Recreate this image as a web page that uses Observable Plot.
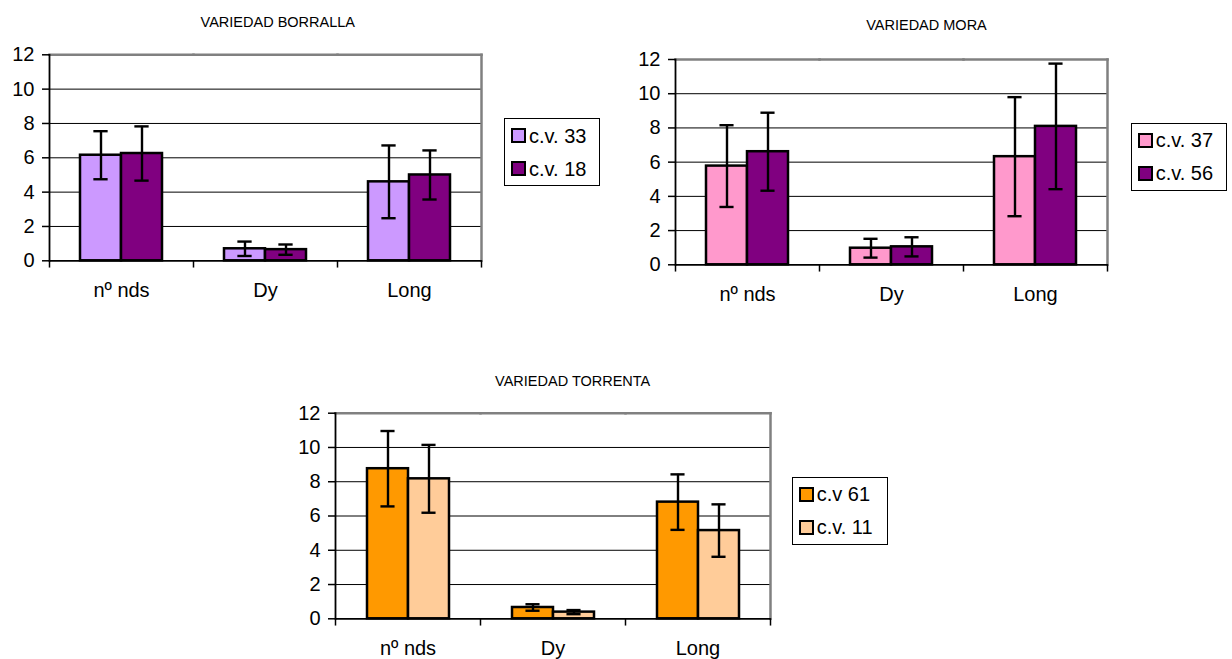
<!DOCTYPE html>
<html>
<head>
<meta charset="utf-8">
<script src="https://cdn.jsdelivr.net/npm/d3@7"></script>
<script src="https://cdn.jsdelivr.net/npm/@observablehq/plot@0.6"></script>
<style>
  html, body { margin: 0; padding: 0; background: #fff; }
  body { width: 1232px; height: 659px; position: relative; overflow: hidden;
         font-family: "Liberation Sans", Arial, sans-serif; color: #000; }
  .chart { position: absolute; }
  .title { position: absolute; width: 300px; text-align: center; font-size: 14.5px;
           line-height: 1; white-space: nowrap; }
  .legend { position: absolute; box-sizing: border-box; width: 96px; border: 1px solid #000; background: #fff; }
  .legend .row { height: 33px; display: flex; align-items: center; font-size: 20px; line-height: 1; white-space: nowrap; }
  .legend .sw { box-sizing: border-box; width: 15px; height: 15px; border: 2px solid #000;
                margin-left: 6px; margin-right: 3px; flex: none; }
</style>
</head>
<body>
<script>
// Shared categories and y-axis ticks
const categories = ["nº nds", "Dy", "Long"];
const gridValues = [2, 4, 6, 8, 10];
const yTicks = [0, 2, 4, 6, 8, 10, 12];

// Variedad Borralla: means and standard deviations per clone
const borrallaSeries = ["c.v. 33", "c.v. 18"];
const borrallaMeans  = [[6.15, 0.70, 4.60], [6.25, 0.65, 5.00]];
const borrallaErrors = [[1.40, 0.42, 2.12], [1.58, 0.30, 1.43]];
const borrallaColors = ["#CC99FF", "#800080"];

// Variedad Mora
const moraSeries = ["c.v. 37", "c.v. 56"];
const moraMeans  = [[5.77, 0.97, 6.32], [6.61, 1.05, 8.09]];
const moraErrors = [[2.39, 0.55, 3.48], [2.28, 0.56, 3.67]];
const moraColors = ["#FF99CC", "#800080"];

// Variedad Torrenta
const torrentaSeries = ["c.v 61", "c.v. 11"];
const torrentaMeans  = [[8.76, 0.66, 6.81], [8.17, 0.39, 5.15]];
const torrentaErrors = [[2.20, 0.19, 1.62], [1.98, 0.12, 1.53]];
const torrentaColors = ["#FF9900", "#FFCC99"];

function rowsOf(series, means, errors) {
  return series.flatMap((s, i) =>
    categories.map((c, j) => ({cat: c, series: s, value: means[i][j], err: errors[i][j]})));
}

function drawChart(cfg) {
  const {title, series, means, errors, colors, box, frame, titlePos, legendPos} = cfg;
  const rows = rowsOf(series, means, errors);
  const plotH = frame.bottom - frame.top;
  const facetW = (frame.right - frame.left) / categories.length;
  const outer = 0.73;
  const step = facetW / (series.length + 2 * outer);
  const capInset = (step - 15) / 2;

  const chart = Plot.plot({
    width: box.width,
    height: box.height,
    marginLeft: frame.left - box.left,
    marginRight: box.left + box.width - frame.right,
    marginTop: frame.top - box.top,
    marginBottom: box.top + box.height - frame.bottom,
    style: {fontFamily: '"Liberation Sans", Arial, sans-serif', fontSize: "20px",
            color: "#000", background: "transparent", overflow: "visible"},
    fx: {domain: categories, padding: 0, axis: null},
    x: {domain: series, paddingInner: 0, paddingOuter: outer, axis: null},
    y: {domain: [0, 12], axis: null},
    color: {domain: series, range: colors},
    marks: [
      // horizontal gridlines
      Plot.ruleY(gridValues, {stroke: "#000", strokeWidth: 1}),
      // grey top and right borders of the plot area
      Plot.frame({anchor: "top", stroke: "#808080", strokeWidth: 2.5}),
      Plot.frame({anchor: "right", stroke: "#808080", strokeWidth: 2.5, facetAnchor: "right"}),
      // bars
      Plot.barY(rows, {fx: "cat", x: "series", y: "value", fill: "series",
                       stroke: "#000", strokeWidth: 2.5}),
      // error bars with caps
      Plot.ruleX(rows, {fx: "cat", x: "series", y1: d => d.value - d.err, y2: d => d.value + d.err,
                        stroke: "#000", strokeWidth: 2.4}),
      Plot.tickY(rows, {fx: "cat", x: "series", y: d => d.value + d.err, stroke: "#000",
                        strokeWidth: 2.4, insetLeft: capInset, insetRight: capInset}),
      Plot.tickY(rows, {fx: "cat", x: "series", y: d => d.value - d.err, stroke: "#000",
                        strokeWidth: 2.4, insetLeft: capInset, insetRight: capInset}),
      // black value axis line and category axis line
      Plot.frame({anchor: "left", stroke: "#000", strokeWidth: 1.8, facetAnchor: "left"}),
      Plot.ruleY([0], {stroke: "#000", strokeWidth: 1.8}),
      // tick marks between categories
      Plot.frame({anchor: "left", stroke: "#000", strokeWidth: 1.5, insetTop: plotH, insetBottom: -6}),
      Plot.frame({anchor: "right", stroke: "#000", strokeWidth: 1.5, insetTop: plotH, insetBottom: -6,
                  facetAnchor: "right"}),
      // axes
      Plot.axisY(yTicks, {anchor: "left", tickSize: 7, tickPadding: 8, label: null,
                          fontSize: 20, stroke: "#000", strokeWidth: 1.5}),
      Plot.axisFx({anchor: "bottom", tickSize: 0, tickPadding: 22.4, label: null, fontSize: 20})
    ]
  });

  const wrap = document.createElement("div");
  wrap.className = "chart";
  wrap.style.left = box.left + "px";
  wrap.style.top = box.top + "px";
  wrap.appendChild(chart);
  document.body.appendChild(wrap);

  const t = document.createElement("div");
  t.className = "title";
  t.textContent = title;
  t.style.left = (titlePos.x - 150) + "px";
  t.style.top = (titlePos.baseline - 0.8465 * 14.5) + "px";
  document.body.appendChild(t);

  const lg = document.createElement("div");
  lg.className = "legend";
  lg.style.left = legendPos.x + "px";
  lg.style.top = legendPos.y + "px";
  series.forEach((s, i) => {
    const row = document.createElement("div");
    row.className = "row";
    const sw = document.createElement("span");
    sw.className = "sw";
    sw.style.background = colors[i];
    const label = document.createElement("span");
    label.textContent = s;
    row.appendChild(sw);
    row.appendChild(label);
    lg.appendChild(row);
  });
  document.body.appendChild(lg);
}

drawChart({
  title: "VARIEDAD BORRALLA",
  series: borrallaSeries, means: borrallaMeans, errors: borrallaErrors, colors: borrallaColors,
  box: {left: 0, top: 0, width: 495, height: 305},
  frame: {left: 48, top: 54.3, right: 481, bottom: 260.3},
  titlePos: {x: 277.8, baseline: 27.3},
  legendPos: {x: 504, y: 118.3}
});

drawChart({
  title: "VARIEDAD MORA",
  series: moraSeries, means: moraMeans, errors: moraErrors, colors: moraColors,
  box: {left: 620, top: 0, width: 500, height: 310},
  frame: {left: 674, top: 59, right: 1108.7, bottom: 264.3},
  titlePos: {x: 926.5, baseline: 30},
  legendPos: {x: 1130.7, y: 122.7}
});

drawChart({
  title: "VARIEDAD TORRENTA",
  series: torrentaSeries, means: torrentaMeans, errors: torrentaErrors, colors: torrentaColors,
  box: {left: 280, top: 360, width: 500, height: 299},
  frame: {left: 335, top: 412.7, right: 770, bottom: 618.3},
  titlePos: {x: 572.7, baseline: 386.7},
  legendPos: {x: 791.7, y: 476.7}
});
</script>
</body>
</html>
